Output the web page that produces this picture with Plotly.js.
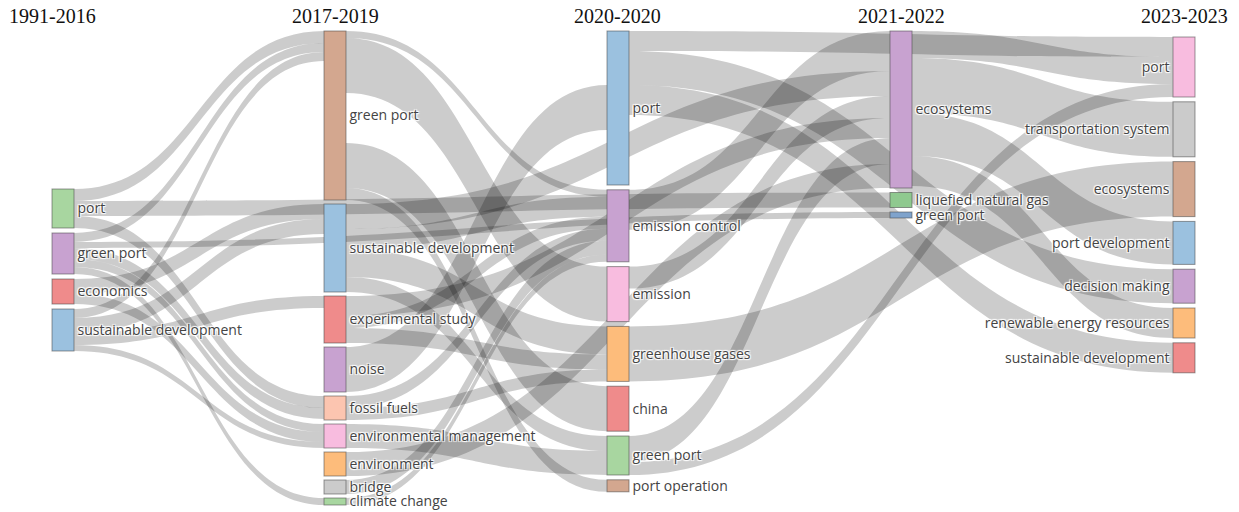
<!DOCTYPE html>
<html><head><meta charset="utf-8">
<script src="https://cdn.plot.ly/plotly-3.0.1.min.js"></script>
<style>html,body{margin:0;padding:0;background:#fff}</style>
</head><body><div id="chart" style="width:1239px;height:512px"></div>
<script>
// ---------------- data ----------------
const periods = ['1991-2016', '2017-2019', '2020-2020', '2021-2022', '2023-2023'];

const nodeLabels = [
  'port', 'green port', 'economics', 'sustainable development',
  'green port', 'sustainable development', 'experimental study', 'noise', 'fossil fuels',
  'environmental management', 'environment', 'bridge', 'climate change',
  'port', 'emission control', 'emission', 'greenhouse gases', 'china', 'green port', 'port operation',
  'ecosystems', 'liquefied natural gas', 'green port',
  'port', 'transportation system', 'ecosystems', 'port development', 'decision making',
  'renewable energy resources', 'sustainable development'
];
const nodePeriod = [0,0,0,0, 1,1,1,1,1,1,1,1,1, 2,2,2,2,2,2,2, 3,3,3, 4,4,4,4,4,4,4];

const linkSource = [0,0,0, 1,1,1,1,1, 2,2, 3,3,3,3,
  4,4,4,4, 5,5,5,5, 6,6,6, 7, 8,8, 9, 10, 11, 12,
  13,13,13, 14, 15, 16, 18,18, 20,20,20,20];
const linkTarget = [4,21,8, 4,22,8,9,12, 5,9, 4,5,6,9,
  14,15,17,19, 20,14,16,18, 20,14,16, 13, 14,16, 18, 20, 14, 14,
  23,27,29, 20, 20, 25, 20,23, 23,24,26,28];
const linkValue = [12,15,12, 9,6,11,8,7, 15,10, 9,15,12,6,
  7,55,45,12, 25,20,28,15, 20,12,15, 45, 12,12, 24, 24, 14, 7,
  20,34,30, 40, 22, 55, 26,13, 27,55,43,30];

// hidden flows (keyword totals not shown as bands)
const hiddenSource = [5, 5, 30, 31, 4];
const hiddenTarget = [30, 31, 13, 13, 32];
const hiddenValue = [0.001, 0.001, 54, 55, 50];

// ---------------- styling / layout ----------------
const C = {
  green: '#a8d6a0', purple: '#c8a2d0', red: '#ef8b8b', blue: '#9bc1df', tan: '#d3a78f',
  peach: '#fcc5b0', pink: '#f8bcdf', orange: '#fdbc7b', grey: '#cbcbcb', green2: '#8fc98f', blue2: '#7fa3cc'
};
const nodeColors = [
  C.green, C.purple, C.red, C.blue,
  C.tan, C.blue, C.red, C.purple, C.peach, C.pink, C.orange, C.grey, C.green,
  C.blue, C.purple, C.pink, C.orange, C.red, C.green, C.tan,
  C.purple, C.green2, C.blue2,
  C.pink, C.grey, C.tan, C.blue, C.purple, C.orange, C.red
];

const M = {l: 52, r: 44, t: 31, b: 7};
const FW = 1239, FH = 512;
const W = FW - M.l - M.r, H = FH - M.t - M.b;
const TH = 22;
const colCentre = [63, 335, 618, 901, 1184];
const titleCentre = [52, 335, 617.5, 901, 1184.5];
const colStart = [158, 0, 0, 0, 6];
const colGap = [5, 4, 4.8, 4.5, 4.8];

const nReal = nodeLabels.length;
const nAll = nReal + 3;
const src = linkSource.concat(hiddenSource);
const tgt = linkTarget.concat(hiddenTarget);
const val = linkValue.concat(hiddenValue);

const inSum = new Array(nAll).fill(0), outSum = new Array(nAll).fill(0);
const outs = Array.from({length: nAll}, () => []);
src.forEach((s, i) => { outSum[s] += val[i]; inSum[tgt[i]] += val[i]; outs[s].push(tgt[i]); });
const nodeVal = inSum.map((v, i) => Math.max(v, outSum[i]));

const xs = [], ys = [];
const cursor = colStart.slice();
for (let i = 0; i < nReal; i++) {
  const c = nodePeriod[i];
  const h = nodeVal[i];
  ys.push((cursor[c] + h / 2) / H);
  cursor[c] += h + colGap[c];
  xs.push((colCentre[c] - M.l) / W);
}
// helper nodes, all off-canvas on the left
xs.push(-0.3, -0.3, -0.3);
ys.push(100 / H, 450 / H, 325 / H);

const depth = new Array(nAll).fill(0);
let cur = [...Array(nAll).keys()], lv = 0;
while (cur.length) {
  const next = [];
  cur.forEach(n => { depth[n] = lv; outs[n].forEach(t => { if (!next.includes(t)) next.push(t); }); });
  cur = next; lv++;
}
const layer = depth.map((d, i) => outs[i].length ? d : lv - 1);
const gS = {}, gN = {};
layer.forEach((L, i) => { gS[L] = (gS[L] || 0) + nodeVal[i]; gN[L] = (gN[L] || 0) + 1; });
let pad = 30;
Object.keys(gS).forEach(L => { if (gN[L] > 1) pad = Math.min(pad, (H - gS[L]) / (gN[L] - 1)); });
pad = Math.max(0, pad);

const allLabels = nodeLabels.concat(['', '', '']);
const allColors = nodeColors.concat(['rgba(0,0,0,0)', 'rgba(0,0,0,0)', 'rgba(0,0,0,0)']);
const linkColors = linkValue.map(() => 'rgba(0,0,0,0.2)').concat(hiddenValue.map(() => 'rgba(0,0,0,0)'));

const trace = {
  type: 'sankey',
  arrangement: 'freeform',
  orientation: 'h',
  hoverinfo: 'none',
  node: {
    label: allLabels,
    color: allColors,
    x: xs, y: ys,
    pad: pad,
    thickness: TH,
    line: {color: 'rgba(70,70,70,0.55)', width: 1},
    hoverinfo: 'none'
  },
  link: {source: src, target: tgt, value: val, color: linkColors, hoverinfo: 'none'},
  textfont: {family: 'Open Sans, sans-serif', size: 14, color: '#444'}
};

const annotations = periods.map((p, i) => ({
  text: p, xref: 'paper', yref: 'paper', x: (titleCentre[i] - M.l) / W, y: 1 + 15 / H,
  xanchor: 'center', yanchor: 'middle', showarrow: false,
  font: {family: 'Liberation Serif, Times New Roman, serif', size: 20, color: '#111'}
}));

Plotly.newPlot('chart', [trace], {
  width: FW, height: FH, margin: M,
  paper_bgcolor: '#fff', plot_bgcolor: '#fff',
  annotations: annotations,
  font: {family: 'Open Sans, sans-serif'}
}, {displayModeBar: false, staticPlot: true});
</script>
</body></html>
